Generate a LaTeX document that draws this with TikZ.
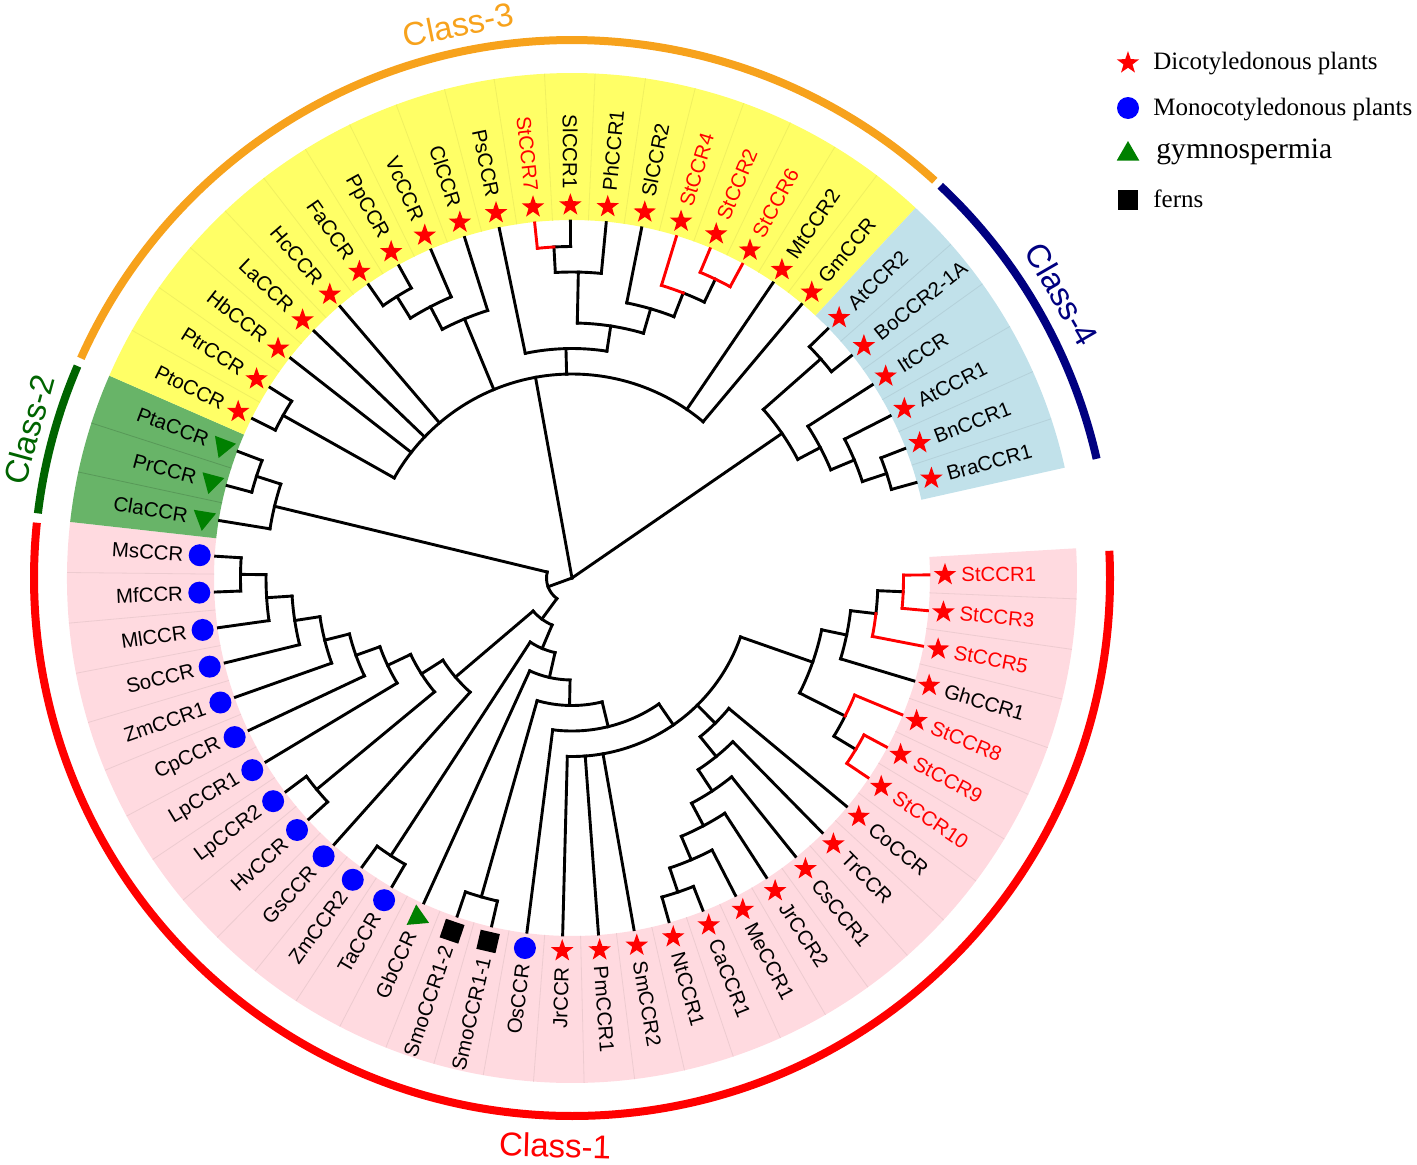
\documentclass[tikz,border=0pt]{standalone}
\usepackage{fontspec}
\setmainfont{Liberation Sans}
\newfontfamily\legfont{Liberation Serif}
\usetikzlibrary{shapes.geometric}
\definecolor{secY}{RGB}{255,255,102}
\definecolor{secB}{RGB}{193,225,234}
\definecolor{secG}{RGB}{104,180,104}
\definecolor{secP}{RGB}{255,218,224}
\definecolor{arcO}{RGB}{247,162,28}
\definecolor{arcG}{RGB}{0,100,0}
\definecolor{arcN}{RGB}{0,0,128}
\definecolor{arcR}{RGB}{255,0,0}
\definecolor{mkG}{RGB}{0,128,0}
\definecolor{mkB}{RGB}{0,0,255}
\newcommand\tbr[3]{\draw[tree] (#1:#2) -- (#1:#3);}
\newcommand\tbrR[3]{\draw[treeR] (#1:#2) -- (#1:#3);}
\newcommand\tarc[3]{\draw[tree] (#2:#1) arc[start angle=#2,end angle=#3,radius=#1];}
\newcommand\tarcR[3]{\draw[treeR] (#2:#1) arc[start angle=#2,end angle=#3,radius=#1];}
\newcommand\tlf[2]{\tbr{#1}{#2}{357}}
\newcommand\tlfR[2]{\tbrR{#1}{#2}{357}}
\newcommand\tsec[3]{\fill[#1] (#2:358) arc[start angle=#2,end angle=#3,radius=358] -- (#3:505) arc[start angle=#3,end angle=#2,radius=505] -- cycle;}
\begin{document}
\begin{tikzpicture}[x=0.5pt,y=0.5pt,
  tree/.style={line width=1.45pt,black,line cap=rect},
  treeR/.style={line width=1.45pt,red,line cap=rect},
  sepl/.style={line width=0.4pt},
  carc/.style={line width=4pt,line cap=butt},
  mks/.style={star,star points=5,star point ratio=2.5,fill=red,minimum size=11.8pt,inner sep=0pt},
  mkc/.style={circle,fill=mkB,minimum size=11pt,inner sep=0pt},
  mkt/.style={regular polygon,regular polygon sides=3,fill=mkG,minimum size=13pt,inner sep=0pt},
  mkv/.style={regular polygon,regular polygon sides=3,shape border rotate=180,fill=mkG,minimum size=13pt,inner sep=0pt},
  mkq/.style={rectangle,fill=black,minimum size=9.8pt,inner sep=0pt},
  lab/.style={font=\fontsize{10.2}{12}\selectfont,inner sep=0pt},
  clab/.style={font=\fontsize{16.5}{18}\selectfont,inner sep=0pt},
  legt/.style={font=\legfont\fontsize{12.5}{14}\selectfont,inner sep=0pt}]
\useasboundingbox (-572,-586) rectangle (845,578);
% sectors
\tsec{secP}{3.375}{-186.375}
\tsec{secG}{-186.375}{-203.625}
\tsec{secY}{-203.625}{-312.875}
\tsec{secB}{-312.875}{-347.375}
\foreach \i in {0,...,31}{\draw[sepl,secP!93!black] (-2.375-5.75*\i:358) -- (-2.375-5.75*\i:505);}
\foreach \i in {33,34}{\draw[sepl,secG!85!black] (-2.375-5.75*\i:358) -- (-2.375-5.75*\i:505);}
\foreach \i in {36,...,53}{\draw[sepl,secY!94!black] (-2.375-5.75*\i:358) -- (-2.375-5.75*\i:505);}
\foreach \i in {55,...,59}{\draw[sepl,secB!93!black] (-2.375-5.75*\i:358) -- (-2.375-5.75*\i:505);}
% class arcs
\draw[carc,arcR] (2.9:538) arc[start angle=2.9,end angle=-185.9,radius=538];
\draw[carc,arcG] (-186.9:538) arc[start angle=-186.9,end angle=-203.2,radius=538];
\draw[carc,arcO] (-204.1:538) arc[start angle=-204.1,end angle=-312.4,radius=538];
\draw[carc,arcN] (-313.2:538) arc[start angle=-313.2,end angle=-347.2,radius=538];
\node[clab,text=arcO,rotate=11.6] (cl3) at (-258.4:565) {Class-3};
\node[clab,text=arcN,rotate=-59.9] (cl4) at (30.1:566) {Class-4};
\node[clab,text=arcG,rotate=74.7] (cl2) at (164.7:563) {Class-2};
\node[clab,text=arcR,rotate=-1.7] (cl1) at (-91.7:568) {Class-1};
% tree: root
\tbr{-159.93}{0}{25.5}
\tbr{-259.69}{0}{204}
\tbr{-325.45}{0}{255}
% M
\tarc{25.5}{-126.30}{-193.56}
\tbr{-126.30}{25.5}{51}
\tbr{-193.56}{25.5}{306}
% Class-2
\tarc{306}{-189.25}{-197.875}
\tlf{-189.25}{306}
\tbr{-197.875}{306}{331.5}
\tarc{331.5}{-195}{-200.75}
\tlf{-195}{331.5}\tlf{-200.75}{331.5}
% n11
\tarc{51}{-112.96}{-139.63}
\tbr{-112.96}{51}{76.5}
\tbr{-139.63}{51}{153}
% ladder L8..L1
\tarc{153}{-131.75}{-147.52}
\tlf{-131.75}{153}
\tbr{-147.52}{153}{178.5}
\tarc{178.5}{-140.375}{-154.66}
\tbr{-140.375}{178.5}{331.5}
\tbr{-154.66}{178.5}{204}
\tarc{331.5}{-137.5}{-143.25}
\tlf{-137.5}{331.5}\tlf{-143.25}{331.5}
\tarc{204}{-149}{-160.32}
\tlf{-149}{204}
\tbr{-160.32}{204}{229.5}
\tarc{229.5}{-154.75}{-165.89}
\tlf{-154.75}{229.5}
\tbr{-165.89}{229.5}{255}
\tarc{255}{-160.5}{-171.28}
\tlf{-160.5}{255}
\tbr{-171.28}{255}{280.5}
\tarc{280.5}{-166.25}{-176.31}
\tlf{-166.25}{280.5}
\tbr{-176.31}{280.5}{306}
\tarc{306}{-172}{-180.625}
\tlf{-172}{306}
\tbr{-180.625}{306}{331.5}
\tarc{331.5}{-177.75}{-183.5}
\tlf{-177.75}{331.5}\tlf{-183.5}{331.5}
% n10
\tarc{76.5}{-102.80}{-123.125}
\tbr{-102.80}{76.5}{102}
\tbr{-123.125}{76.5}{331.5}
\tarc{331.5}{-120.25}{-126}
\tlf{-120.25}{331.5}\tlf{-126}{331.5}
% n9
\tarc{102}{-91.10}{-114.5}
\tbr{-91.10}{102}{127.5}
\tlf{-114.5}{102}
% n8
\tarc{127.5}{-76.32}{-105.875}
\tbr{-76.32}{127.5}{153}
\tbr{-105.875}{127.5}{331.5}
\tarc{331.5}{-103}{-108.75}
\tlf{-103}{331.5}\tlf{-108.75}{331.5}
% n7
\tarc{153}{-55.385}{-97.25}
\tbr{-55.385}{153}{178.5}
\tlf{-97.25}{153}
% n6
\tarc{178.5}{-19.27}{-91.5}
\tbr{-19.27}{178.5}{255}
\tbr{-45.41}{178.5}{204}
\tlf{-80}{178.5}\tlf{-85.75}{178.5}\tlf{-91.5}{178.5}
% c6..c1
\tarc{204}{-39.75}{-51.07}
\tlf{-39.75}{204}
\tbr{-51.07}{204}{229.5}
\tarc{229.5}{-45.5}{-56.64}
\tlf{-45.5}{229.5}
\tbr{-56.64}{229.5}{255}
\tarc{255}{-51.25}{-62.03}
\tlf{-51.25}{255}
\tbr{-62.03}{255}{280.5}
\tarc{280.5}{-57}{-67.06}
\tlf{-57}{280.5}
\tbr{-67.06}{280.5}{306}
\tarc{306}{-62.75}{-71.375}
\tlf{-62.75}{306}
\tbr{-71.375}{306}{331.5}
\tarc{331.5}{-68.5}{-74.25}
\tlf{-68.5}{331.5}\tlf{-74.25}{331.5}
% n5 (St group)
\tarc{255}{-11.72}{-26.81}
\tbr{-11.72}{255}{280.5}
\tbr{-26.81}{255}{306}
\tarc{280.5}{-6.6875}{-16.75}
\tbr{-6.6875}{280.5}{306}
\tlf{-16.75}{280.5}
\tarc{306}{-2.375}{-6.6875}
\tbr{-2.375}{306}{331.5}
\tarcR{306}{-6.6875}{-11}
\tlfR{-11}{306}
\tarcR{331.5}{0.5}{-5.25}
\tlfR{0.5}{331.5}\tlfR{-5.25}{331.5}
\tarc{306}{-26.81}{-31.125}
\tbr{-31.125}{306}{331.5}
\tarcR{306}{-22.5}{-26.81}
\tlfR{-22.5}{306}
\tarcR{331.5}{-28.25}{-34}
\tlfR{-28.25}{331.5}\tlfR{-34}{331.5}
% N3 (Class-3)
\tarc{204}{-209.375}{-310}
\tbr{-209.375}{204}{331.5}
\tlf{-218}{204}\tlf{-223.75}{204}\tlf{-229.5}{204}
\tbr{-247.47}{204}{280.5}
\tbr{-268.49}{204}{229.5}
\tlf{-304.25}{204}\tlf{-310}{204}
\tarc{331.5}{-206.5}{-212.25}
\tlf{-206.5}{331.5}\tlf{-212.25}{331.5}
\tarc{280.5}{-242.44}{-252.5}
\tbr{-242.44}{280.5}{306}
\tlf{-252.5}{280.5}
\tarc{306}{-238.125}{-246.75}
\tbr{-238.125}{306}{331.5}
\tlf{-246.75}{306}
\tarc{331.5}{-235.25}{-241}
\tlf{-235.25}{331.5}\tlf{-241}{331.5}
\tarc{229.5}{-258.25}{-278.74}
\tlf{-258.25}{229.5}
\tbr{-278.74}{229.5}{255}
\tarc{255}{-271.19}{-286.28}
\tbr{-271.19}{255}{306}
\tbr{-286.28}{255}{280.5}
\tarc{306}{-266.875}{-275.5}
\tbr{-266.875}{306}{331.5}
\tlf{-275.5}{306}
\tarc{331.5}{-266.875}{-269.75}
\tlf{-269.75}{331.5}
\tarcR{331.5}{-264}{-266.875}
\tlfR{-264}{331.5}
\tarc{280.5}{-281.25}{-291.31}
\tlf{-281.25}{280.5}
\tbr{-291.31}{280.5}{306}
\tarc{306}{-291.31}{-295.625}
\tbr{-295.625}{306}{331.5}
\tarcR{306}{-287}{-291.31}
\tlfR{-287}{306}
\tarcR{331.5}{-292.75}{-298.5}
\tlfR{-292.75}{331.5}\tlfR{-298.5}{331.5}
% P4 (Class-4)
\tarc{255}{-318.625}{-332.28}
\tbr{-318.625}{255}{331.5}
\tbr{-332.28}{255}{280.5}
\tarc{331.5}{-315.75}{-321.5}
\tlf{-315.75}{331.5}\tlf{-321.5}{331.5}
\tarc{280.5}{-327.25}{-337.31}
\tlf{-327.25}{280.5}
\tbr{-337.31}{280.5}{306}
\tarc{306}{-333}{-341.625}
\tlf{-333}{306}
\tbr{-341.625}{306}{331.5}
\tarc{331.5}{-338.75}{-344.5}
\tlf{-338.75}{331.5}\tlf{-344.5}{331.5}
% markers
\foreach \a in {0.5,-5.25,-11,-16.75,-22.5,-28.25,-34,-39.75,-45.5,-51.25,-57,-62.75,-68.5,-74.25,-80,-85.75,-91.5,
  -206.5,-212.25,-218,-223.75,-229.5,-235.25,-241,-246.75,-252.5,-258.25,-264,-269.75,-275.5,-281.25,-287,-292.75,-298.5,-304.25,-310,
  -315.75,-321.5,-327.25,-333,-338.75,-344.5}{\node[mks] at (\a:373) {};}
\foreach \a in {-97.25,-120.25,-126,-131.75,-137.5,-143.25,-149,-154.75,-160.5,-166.25,-172,-177.75,-183.5}{\node[mkc] at (\a:373) {};}
\node[mkq,rotate=-13] (sq1) at (-103:373) {};
\node[mkq,rotate=-18.75] (sq2) at (-108.75:373) {};
\node[mkt,rotate=5] (gb) at (-114.5:373) {};
\node[mkv,rotate=-9.25] (tcla) at (-189.25:373) {};
\node[mkv,rotate=-15] (tpr) at (-195:373) {};
\node[mkv,rotate=-20.75] (tpta) at (-200.75:373) {};
% labels
\foreach \a/\n/\c in {0.5/StCCR1/red,-5.25/StCCR3/red,-11/StCCR5/red,-16.75/GhCCR1/black,-22.5/StCCR8/red,-28.25/StCCR9/red,-34/StCCR10/red,
  -39.75/CoCCR/black,-45.5/TrCCR/black,-51.25/CsCCR1/black,-57/JrCCR2/black,-62.75/MeCCR1/black,-68.5/CaCCR1/black,-74.25/NtCCR1/black,
  -80/SmCCR2/black,-85.75/PmCCR1/black,-91.5/JrCCR/black,-97.25/OsCCR/black,-103/SmoCCR1-1/black,-108.75/SmoCCR1-2/black,
  -114.5/GbCCR/black,-120.25/TaCCR/black,-126/ZmCCR2/black,-131.75/GsCCR/black,-137.5/HvCCR/black,-143.25/LpCCR2/black,
  -149/LpCCR1/black,-154.75/CpCCR/black,-160.5/ZmCCR1/black,-166.25/SoCCR/black,-172/MlCCR/black,-177.75/MfCCR/black,-183.5/MsCCR/black,
  -189.25/ClaCCR/black,-195/PrCCR/black,-200.75/PtaCCR/black,-206.5/PtoCCR/black,-212.25/PtrCCR/black,-218/HbCCR/black,
  -223.75/LaCCR/black,-229.5/HcCCR/black,-235.25/FaCCR/black,-241/PpCCR/black,-246.75/VcCCR/black,-252.5/ClCCR/black,
  -258.25/PsCCR/black,-264/StCCR7/red,-269.75/SlCCR1/black,-275.5/PhCCR1/black,-281.25/SlCCR2/black,-287/StCCR4/red,
  -292.75/StCCR2/red,-298.5/StCCR6/red,-304.25/MtCCR2/black,-310/GmCCR/black,-315.75/AtCCR2/black,-321.5/BoCCR2-1A/black,
  -327.25/ItCCR/black,-333/AtCCR1/black,-338.75/BnCCR1/black,-344.5/BraCCR1/black}{
  \pgfmathsetmacro\cs{cos(\a)}
  \ifdim\cs pt<0pt
    \node[lab,text=\c,rotate=\a+180,anchor=east] at (\a:389) {\n};
  \else
    \node[lab,text=\c,rotate=\a,anchor=west] at (\a:389) {\n};
  \fi
}
% legend
\node[mks] (lg1) at (556,515) {};
\node[legt,anchor=base west] (lt1) at (581,509) {Dicotyledonous plants};
\node[mkc] (lg2) at (556,470) {};
\node[legt,anchor=base west] (lt2) at (581,463) {Monocotyledonous plants};
\node[mkt] (lg3) at (556,424) {};
\node[legt,font=\legfont\fontsize{14.8}{16}\selectfont,anchor=base west] (lt3) at (584,420) {gymnospermia};
\node[mkq] (lg4) at (556,378) {};
\node[legt,anchor=base west] (lt4) at (581,371) {ferns};
\end{tikzpicture}
\end{document}
